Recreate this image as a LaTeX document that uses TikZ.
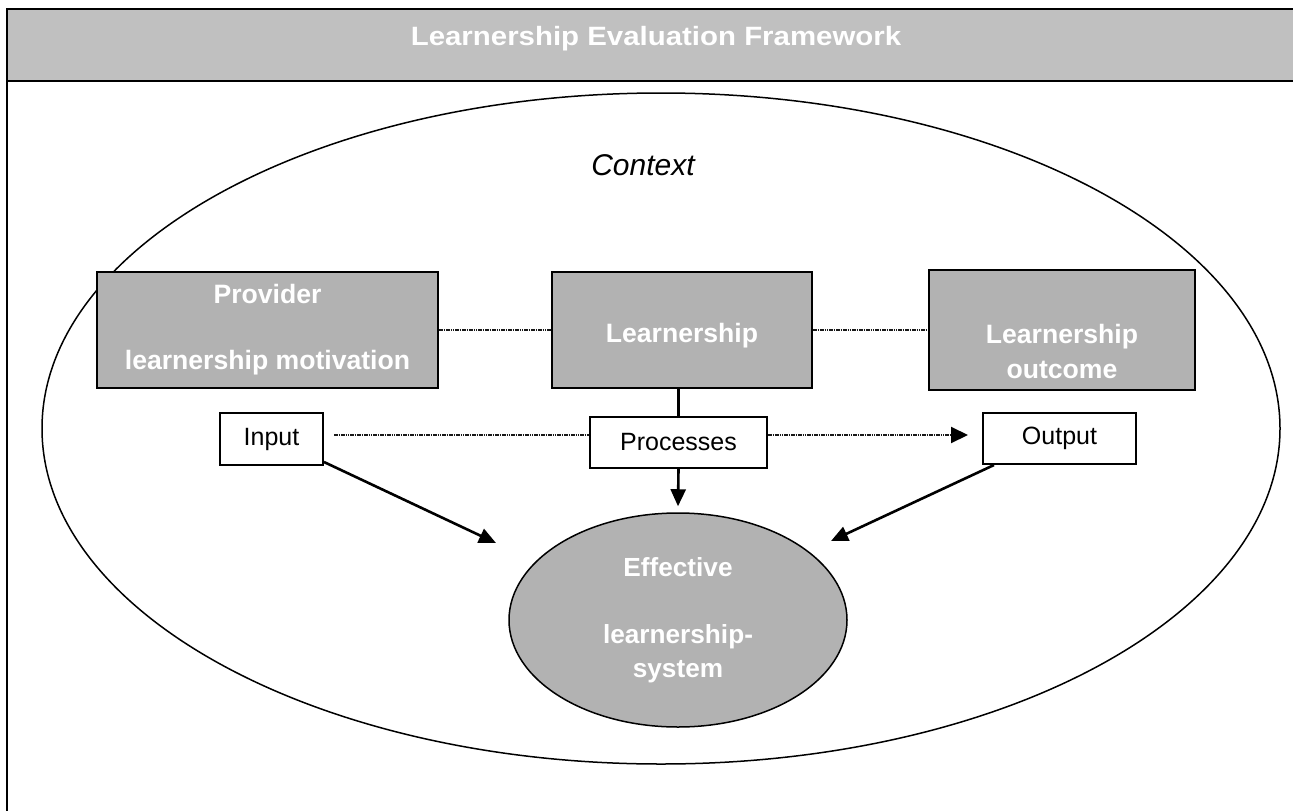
\documentclass[tikz,border=0pt]{standalone}
\usepackage{fontspec}
\setmainfont{Liberation Sans}
\newfontfamily\titlefont{Liberation Sans}[FakeStretch=1.11]
\usetikzlibrary{arrows.meta,shapes.geometric}
\definecolor{hdrgray}{HTML}{C0C0C0}
\definecolor{boxgray}{HTML}{B2B2B2}
\tikzset{
  graybox/.style={draw=black, line width=2pt, fill=boxgray, rectangle, inner sep=0pt,
    text=white, font=\bfseries\fontsize{26.6}{33}\selectfont, align=center},
  graytext/.style={text=white, font=\bfseries\fontsize{26.6}{35}\selectfont, align=center, inner sep=0pt},
  whitebox/.style={draw=black, line width=2pt, fill=white, rectangle, inner sep=0pt,
    font=\fontsize{25}{30}\selectfont},
  dotline/.style={line width=2pt, black!90, dash pattern=on 1.6pt off 0.7pt},
  solidarrow/.style={line width=2.6pt, -{Triangle[length=17pt,width=15pt]}},
  plainline/.style={line width=2.6pt},
}
\begin{document}
\begin{tikzpicture}[x=1pt,y=-1pt]
\useasboundingbox (0,0) rectangle (1293,811);
% frame and header
\draw[line width=1.5pt] (7,9) rectangle (1296,830);
\node[draw=black, line width=1.8pt, fill=hdrgray, rectangle, minimum width=1289pt, minimum height=72pt, inner sep=0pt] (hdr) at (651.5,45) {};
\node[anchor=base, text=white, inner sep=0pt, font=\titlefont\bfseries\fontsize{26.5}{30}\selectfont] (title) at (656,45) {Learnership Evaluation Framework};
% context ellipse
\node[draw=black, line width=1.5pt, ellipse, minimum width=1238pt, minimum height=671pt, inner sep=0pt] (ctx) at (661,428.5) {};
\node[anchor=base, inner sep=0pt, font=\itshape\fontsize{30}{34}\selectfont] (ctxlabel) at (643,175) {Context};
% top boxes
\node[graybox, minimum width=341pt, minimum height=116pt] (prov) at (267.5,330) {Provider\\[33pt]learnership motivation};
\node[graybox, minimum width=260pt, minimum height=116pt, text height=30pt, text depth=6pt] (lrn) at (682,330) {Learnership};
\node[graybox, minimum width=266pt, minimum height=120pt] (outc) at (1062,330) {};
\node[graytext] (outctxt) at (1062,351.5) {Learnership\\outcome};
% small white boxes
\node[whitebox, minimum width=103pt, minimum height=52pt] (in) at (271.5,439) {Input};
\node[whitebox, minimum width=177pt, minimum height=51pt] (proc) at (678.5,442.5) {Processes};
\node[whitebox, minimum width=153pt, minimum height=51pt] (outp) at (1059.5,438.5) {Output};
% effective ellipse
\node[draw=black, line width=1.5pt, fill=boxgray, ellipse, minimum width=338pt, minimum height=214pt, inner sep=0pt,
  text=white, font=\bfseries\fontsize{26.2}{33.5}\selectfont, align=center] (eff) at (678,620) {Effective\\[33.5pt]learnership-\\system};
% tip coordinates
\coordinate (itip) at (496,543);
\coordinate (otip) at (831,541);
% connectors
\draw[dotline] (prov.east) -- (lrn.west);
\draw[dotline] (lrn.east) -- (outc.west);
\draw[plainline] (proc.north) -- (proc.north |- lrn.south);
\draw[dotline] ([xshift=10pt,yshift=4pt]in.east) -- ([yshift=7.5pt]proc.west);
\draw[dotline, -{Triangle[length=17pt,width=16pt,color=black]}] ([yshift=7.5pt]proc.east) -- ([xshift=-14pt,yshift=3.5pt]outp.west);
\draw[solidarrow] (proc.south) -- ([yshift=6pt]eff.north);
\draw[solidarrow] ([yshift=4pt]in.south east) -- (itip);
\draw[solidarrow] ([xshift=12pt]outp.south west) -- (otip);
\end{tikzpicture}
\end{document}
